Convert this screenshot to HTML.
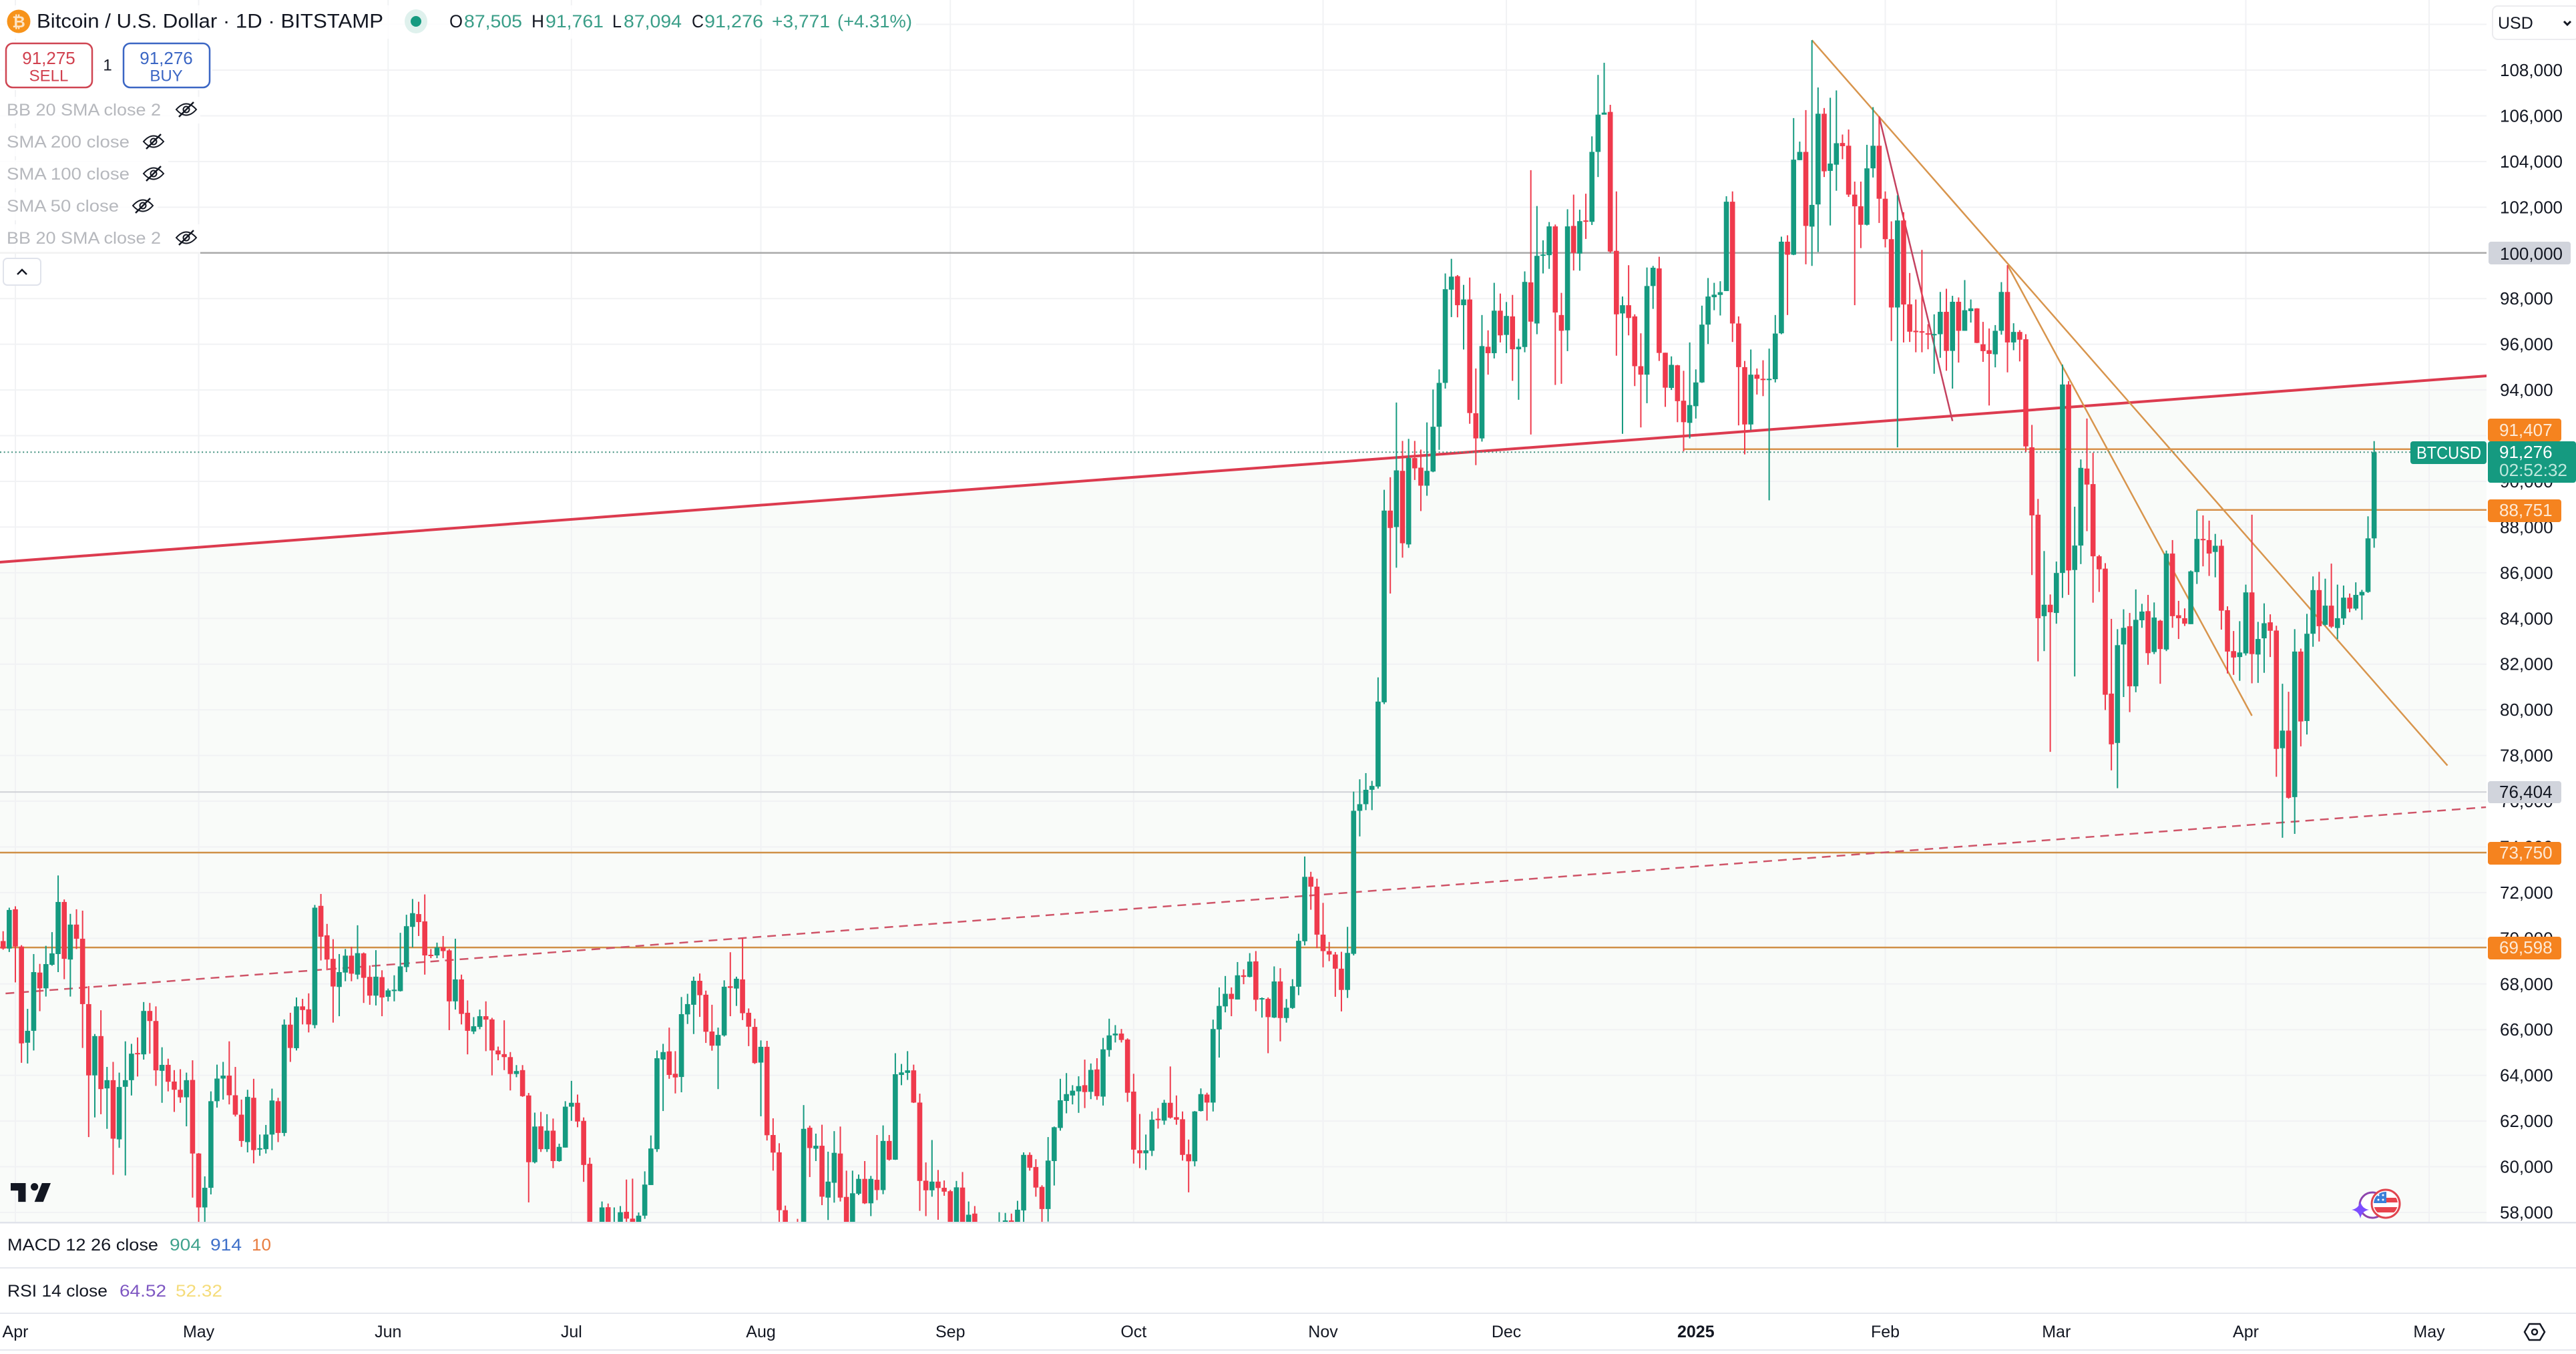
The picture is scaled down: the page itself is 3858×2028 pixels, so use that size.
<!DOCTYPE html>
<html lang="en">
<head>
<meta charset="utf-8">
<title>Bitcoin / U.S. Dollar 1D BITSTAMP</title>
<style>
html,body{margin:0;padding:0;background:#fff;width:3858px;height:2028px;overflow:hidden}
svg{display:block}
text{font-family:"Liberation Sans",sans-serif;fill:#131722;dominant-baseline:central}
</style>
</head>
<body>
<svg id="chart" xmlns="http://www.w3.org/2000/svg" width="3858" height="2028" viewBox="0 0 3858 2028">
<defs>
<clipPath id="plot-clip"><rect x="0" y="0" width="3724" height="1830"/></clipPath>
<clipPath id="flag-clip"><circle cx="3573" cy="1803" r="18"/></clipPath>
</defs>
<rect x="0" y="0" width="3858" height="2028" fill="#ffffff"/>
<g id="plot-layer" clip-path="url(#plot-clip)"></g>
<g id="axis-layer"></g>
<g id="time-layer"></g>

<!-- price tags -->
<g>
<g><rect x="3727" y="362" width="123" height="34" rx="4" fill="#d1d4dc"/><text x="3744" y="380" font-size="26">100,000</text></g>
<g><rect x="3726" y="627" width="110" height="34" rx="4" fill="#f5831f"/><text x="3743" y="644" font-size="26" style="fill:#fde9d5">91,407</text></g>
<g><rect x="3726" y="748" width="110" height="34" rx="4" fill="#f5831f"/><text x="3743" y="764" font-size="26" style="fill:#fde9d5">88,751</text></g>
<g><rect x="3726" y="1170" width="110" height="33" rx="4" fill="#d1d4dc"/><text x="3743" y="1186" font-size="26">76,404</text></g>
<g><rect x="3726" y="1261" width="110" height="34" rx="4" fill="#f5831f"/><text x="3743" y="1277" font-size="26" style="fill:#fde9d5">73,750</text></g>
<g><rect x="3726" y="1403" width="110" height="34" rx="4" fill="#f5831f"/><text x="3743" y="1419" font-size="26" style="fill:#fde9d5">69,598</text></g>
<g><rect x="3610" y="661" width="114" height="34" rx="4" fill="#159a80"/><text x="3619" y="678" font-size="26" textLength="97" lengthAdjust="spacingAndGlyphs" style="fill:#ffffff">BTCUSD</text></g>
<g><rect x="3726" y="661" width="132" height="62" rx="4" fill="#159a80"/><text x="3743" y="677" font-size="26" style="fill:#ffffff">91,276</text><text x="3743" y="704" font-size="26" textLength="102" lengthAdjust="spacingAndGlyphs" style="fill:#bfe8dd">02:52:32</text></g>
</g>

<!-- header legend -->
<g>
<rect x="0" y="8" width="1372" height="50" fill="#fff" fill-opacity=".85"/>
<rect x="0" y="60" width="318" height="75" fill="#fff" fill-opacity=".85"/>
<rect x="0" y="145" width="300" height="40" fill="#fff" fill-opacity=".85"/>
<rect x="0" y="192" width="252" height="42" fill="#fff" fill-opacity=".85"/>
<rect x="0" y="240" width="252" height="42" fill="#fff" fill-opacity=".85"/>
<rect x="0" y="288" width="236" height="42" fill="#fff" fill-opacity=".85"/>
<rect x="0" y="336" width="300" height="44" fill="#fff" fill-opacity=".85"/>

<g><circle cx="28" cy="32" r="17.5" fill="#f7931a"/><text x="28" y="33" font-size="24" font-weight="bold" text-anchor="middle" style="fill:#fde3c2;font-family:'DejaVu Sans',sans-serif">₿</text></g>
<text x="55" y="32" font-size="30" textLength="519" lengthAdjust="spacingAndGlyphs">Bitcoin / U.S. Dollar · 1D · BITSTAMP</text>
<g><ellipse cx="623" cy="32" rx="17" ry="18" fill="#dff1ed"/><circle cx="623" cy="32" r="8" fill="#159a80"/></g>
<g font-size="27">
<text x="673" y="32" textLength="20" lengthAdjust="spacingAndGlyphs">O</text><text x="695" y="32" textLength="87" lengthAdjust="spacingAndGlyphs" style="fill:#3a9e88">87,505</text>
<text x="796" y="32" textLength="19" lengthAdjust="spacingAndGlyphs">H</text><text x="817" y="32" textLength="87" lengthAdjust="spacingAndGlyphs" style="fill:#3a9e88">91,761</text>
<text x="917" y="32" textLength="14" lengthAdjust="spacingAndGlyphs">L</text><text x="934" y="32" textLength="87" lengthAdjust="spacingAndGlyphs" style="fill:#3a9e88">87,094</text>
<text x="1036" y="32" textLength="18" lengthAdjust="spacingAndGlyphs">C</text><text x="1055" y="32" textLength="88" lengthAdjust="spacingAndGlyphs" style="fill:#3a9e88">91,276</text>
<text x="1156" y="32" textLength="87" lengthAdjust="spacingAndGlyphs" style="fill:#3a9e88">+3,771</text>
<text x="1254" y="32" textLength="112" lengthAdjust="spacingAndGlyphs" style="fill:#3a9e88">(+4.31%)</text>
</g>

<g><rect x="9" y="65" width="129" height="66" rx="10" fill="#fff" stroke="#cf4552" stroke-width="2.5"/><text x="73" y="87" font-size="26" text-anchor="middle" style="fill:#d1414f">91,275</text><text x="73" y="114" font-size="24" text-anchor="middle" style="fill:#d1414f">SELL</text></g>
<text x="161" y="98" font-size="24" text-anchor="middle">1</text>
<g><rect x="185" y="65" width="129" height="66" rx="10" fill="#fff" stroke="#3b66c4" stroke-width="2.5"/><text x="249" y="87" font-size="26" text-anchor="middle" style="fill:#3b66c4">91,276</text><text x="249" y="114" font-size="24" text-anchor="middle" style="fill:#3b66c4">BUY</text></g>

<g font-size="25">
<text x="10" y="165" textLength="231" lengthAdjust="spacingAndGlyphs" style="fill:#b6b8bd">BB 20 SMA close 2</text>
<text x="10" y="213" textLength="184" lengthAdjust="spacingAndGlyphs" style="fill:#b6b8bd">SMA 200 close</text>
<text x="10" y="261" textLength="184" lengthAdjust="spacingAndGlyphs" style="fill:#b6b8bd">SMA 100 close</text>
<text x="10" y="309" textLength="168" lengthAdjust="spacingAndGlyphs" style="fill:#b6b8bd">SMA 50 close</text>
<text x="10" y="357" textLength="231" lengthAdjust="spacingAndGlyphs" style="fill:#b6b8bd">BB 20 SMA close 2</text>
</g>
<g transform="translate(279,164)" fill="none" stroke="#131722" stroke-width="2"><path d="M-15 0Q0-17 15 0Q0 17-15 0Z"/><circle r="4.5"/><path d="M-11 11L11-11" stroke-width="2.5"/></g>
<g transform="translate(230,212)" fill="none" stroke="#131722" stroke-width="2"><path d="M-15 0Q0-17 15 0Q0 17-15 0Z"/><circle r="4.5"/><path d="M-11 11L11-11" stroke-width="2.5"/></g>
<g transform="translate(230,260)" fill="none" stroke="#131722" stroke-width="2"><path d="M-15 0Q0-17 15 0Q0 17-15 0Z"/><circle r="4.5"/><path d="M-11 11L11-11" stroke-width="2.5"/></g>
<g transform="translate(214,308)" fill="none" stroke="#131722" stroke-width="2"><path d="M-15 0Q0-17 15 0Q0 17-15 0Z"/><circle r="4.5"/><path d="M-11 11L11-11" stroke-width="2.5"/></g>
<g transform="translate(279,356)" fill="none" stroke="#131722" stroke-width="2"><path d="M-15 0Q0-17 15 0Q0 17-15 0Z"/><circle r="4.5"/><path d="M-11 11L11-11" stroke-width="2.5"/></g>
<g><rect x="5" y="387" width="56" height="40" rx="6" fill="#fff" stroke="#e0e3eb" stroke-width="2"/><path d="M26 411L33 404L40 411" fill="none" stroke="#131722" stroke-width="2.5"/></g>
</g>

<!-- currency selector -->
<g><rect x="3733" y="9" width="130" height="50" rx="8" fill="#fff" stroke="#ececef" stroke-width="2"/><text x="3741" y="35" font-size="25">USD</text><path d="M3840 32L3845 37L3850 32" fill="none" stroke="#131722" stroke-width="3"/></g>

<!-- logo & news -->
<path transform="translate(12.25,1760.75) scale(1.875)" fill="#131722" d="M14 6H2v6h6v9h6V6Zm14 15h-7l6-15h7l-6 15Zm-7-9a3 3 0 1 0 0-6 3 3 0 0 0 0 6Z"/>
<g>
<circle cx="3553" cy="1805" r="19" fill="#fff" stroke="#8e44ad" stroke-width="3"/>
<path d="M3535 1799Q3537 1810 3548 1812Q3537 1814 3535 1825Q3533 1814 3522 1812Q3533 1810 3535 1799Z" fill="#7c4dff"/>
<circle cx="3573" cy="1803" r="21" fill="#fff" stroke="#e0454f" stroke-width="3"/>
<g clip-path="url(#flag-clip)"><rect x="3555" y="1785" width="36" height="36" fill="#fff"/><rect x="3573" y="1794" width="18" height="7" fill="#e8434d"/><rect x="3555" y="1808" width="36" height="8" fill="#e8434d"/><rect x="3555" y="1785" width="19" height="17" fill="#3a7fd8"/><circle cx="3562" cy="1790" r="1.5" fill="#fff"/><circle cx="3569" cy="1790" r="1.5" fill="#fff"/><circle cx="3562" cy="1797" r="1.5" fill="#fff"/><circle cx="3569" cy="1797" r="1.5" fill="#fff"/></g>
</g>

<!-- lower panes -->
<rect x="0" y="1830" width="3858" height="2.5" fill="#e0e3eb"/>
<rect x="0" y="1898" width="3858" height="2" fill="#e6e8ee"/>
<rect x="0" y="1966" width="3858" height="2" fill="#e6e8ee"/>
<rect x="0" y="2021" width="3858" height="2" fill="#e6e8ee"/>
<g font-size="25">
<text x="11" y="1865" textLength="226" lengthAdjust="spacingAndGlyphs">MACD 12 26 close</text>
<text x="254" y="1865" textLength="47" lengthAdjust="spacingAndGlyphs" style="fill:#3fa28d">904</text>
<text x="315" y="1865" textLength="47" lengthAdjust="spacingAndGlyphs" style="fill:#3d6fc9">914</text>
<text x="377" y="1865" textLength="29" lengthAdjust="spacingAndGlyphs" style="fill:#e87c3e">10</text>
</g>
<g font-size="25">
<text x="11" y="1934" textLength="150" lengthAdjust="spacingAndGlyphs">RSI 14 close</text>
<text x="179" y="1934" textLength="70" lengthAdjust="spacingAndGlyphs" style="fill:#7e57c2">64.52</text>
<text x="263" y="1934" textLength="70" lengthAdjust="spacingAndGlyphs" style="fill:#f5dc7a">52.32</text>
</g>
<g transform="translate(3796,1995)" fill="none" stroke="#131722" stroke-width="2.5"><path d="M-15 0L-8-12H8L15 0L8 12H-8Z"/><circle r="4"/></g>

<script>
/* Candle values (USD), one per day, beginning 30 Mar 2024 */
const firstBar = -2;
const opens = [
69880,69550,71270,69640,65430,65950,68500,67810,68840,69310,
71590,69070,70600,69980,67120,64000,65720,63430,63790,61200,
63500,63790,64980,64920,66820,66380,64200,64460,63730,63370,
63040,63800,60580,58220,59080,62870,63860,63990,63130,62280,
61080,63020,60750,60770,61410,62870,61480,66220,65190,67020,
66890,66200,71420,70130,69100,67870,68500,69240,68410,69340,
68310,67490,68300,67440,67690,67690,68740,70500,71060,70740,
69280,69250,69610,69470,67240,68200,66740,65920,66120,66590,
66450,65090,64930,64800,64060,64230,63120,60200,61770,60770,
61580,60250,60840,62630,62800,62010,60130,57000,56660,58230,
55860,56690,58030,57730,57340,57860,59200,60770,64690,65050,
64070,63930,66670,67090,68140,67530,65920,65300,65750,67900,
67800,68200,66740,66120,64560,65250,61390,60630,58100,53990,
56040,55120,61710,60790,60920,58650,59300,60580,58680,57560,
58820,59470,58400,59430,58980,61130,60310,64020,64110,64220,
62810,59390,58970,59350,59080,58930,57320,59090,57480,57950,
56160,53950,54150,54840,57050,57650,57340,58090,60520,59990,
59120,58150,60250,61700,62880,63120,63300,63570,63280,64260,
63070,65110,65750,65830,65570,63290,60720,60590,60700,62100,
62020,62800,62170,62080,60550,60240,62440,63160,62810,66010,
67020,67570,67320,68380,68310,68990,67340,67350,66530,68110,
66510,66950,67880,69870,72690,72260,70160,69440,69290,68670,
67740,69320,75580,75870,76500,76640,80330,88720,88000,90460,
87240,91020,90600,89810,90430,92390,94310,98390,98980,97710,
97960,92980,91880,95890,95610,97470,96410,97220,95780,95880,
98710,96910,99870,99900,101160,97280,96610,101180,99970,101420,
101360,104420,106050,106170,100090,97350,97710,97220,95040,94670,
98550,99320,95630,94090,95080,93530,92560,93290,94330,96860,
98060,98160,98330,102240,96910,95000,92490,94670,94490,94470,
94470,96480,100490,99920,104060,104420,101150,102120,106090,103590,
103860,104810,104690,102550,102040,101230,103700,104690,102370,100600,
97610,101420,97750,96590,96570,96480,96410,96440,97420,95710,
97860,96590,97450,97570,96000,95740,95560,96590,98290,96080,
96540,96220,91490,88540,84100,84600,84240,85990,94240,86120,
87190,90560,89880,86720,86180,80710,78550,82860,83660,81030,
83920,84320,82530,83900,82640,86840,84140,84010,83750,86030,
87480,87430,86910,87180,84360,82570,82310,82470,85140,82420,
83130,83830,83470,78320,79090,76180,82550,79510,83330,85240,
83720,84560,83580,84000,84910,84430,85010,85160,87505];
const highs = [
70310,71340,71400,69700,66910,69310,68880,69670,70270,72750,
71700,71070,71270,71210,67910,65810,66850,64370,64590,64120,
65490,65380,65660,67210,67170,67020,65230,64730,64230,64270,
64120,64660,60600,59580,63300,64470,64590,65490,64370,62940,
63370,63850,61410,61830,63420,63020,66450,66740,67410,67350,
67590,71460,71940,70630,69960,69310,69530,69630,70570,69380,
68810,69480,68600,67800,68380,70240,71030,71720,71600,71920,
69530,69810,70100,69530,69980,68410,67280,66550,66880,67240,
66520,65260,66410,65020,64450,64450,63230,62370,62400,62300,
62110,61010,62870,63760,63160,62160,60400,57490,58480,58390,
58220,58280,59440,59480,58000,59800,61370,65090,65380,66090,
65060,67430,67570,68320,68460,67710,67090,66090,68160,69390,
68320,70020,66930,66480,65530,65510,62120,61030,58300,57000,
57720,62700,61800,61450,61840,60660,61560,61760,59830,59830,
59660,60250,59600,61390,61810,61390,64970,64500,65060,64470,
63200,60190,61170,59860,59400,58990,59380,59770,58480,58280,
57000,54800,55300,58010,57980,57950,58510,60630,60630,60330,
59190,61300,61760,63850,64100,63570,63960,64690,64520,64750,
65640,66480,66200,66030,65620,64070,62310,61410,62420,62570,
62930,64390,63120,62420,61190,62440,63430,63240,66440,67850,
68350,67850,68960,68640,69350,69440,67410,67410,68770,68690,
67340,68210,70200,73580,72910,72610,71550,69840,69400,69410,
70500,76420,76960,77230,76890,81420,89630,90180,93450,91770,
91860,91770,91390,92580,94020,94900,99100,99740,99030,98600,
98920,94940,97280,96610,98690,98220,97850,98160,96240,99190,
103620,102050,100550,101350,101240,98250,101910,102550,101890,102590,
105100,107790,108320,106480,102690,98090,99460,97310,96480,99360,
99430,99830,95630,95470,95100,94840,96080,94900,97690,98900,
98690,98760,102480,102690,97220,95270,95770,94940,95300,95810,
97280,100710,100770,105900,104870,106250,109310,107240,106340,106790,
107110,105180,105400,103120,103120,104730,106380,105980,102690,101380,
102520,101780,99120,97960,100130,96880,97310,98290,98430,98120,
98050,98810,97960,97580,96980,96690,96840,98720,99460,96920,
96620,96440,92470,89230,86950,85050,86490,95110,94390,88890,
90960,92750,91250,86780,86420,83980,83530,84400,84240,85270,
84640,85030,84700,83940,86970,87430,84770,84440,86100,88730,
88510,88280,87700,87450,84530,83450,83880,85480,88540,83850,
84660,84180,83680,81140,80790,83530,82680,84200,85840,86040,
85740,86400,85480,85440,85090,85580,85250,88470,91761];
const lows = [
69500,69400,68070,64550,64520,65090,66810,67450,68800,68520,
68210,67450,69530,65200,61300,62160,62300,61660,59650,60830,
59620,63120,63950,64690,64950,63540,62800,63300,62400,62800,
61770,58650,56500,56900,58790,62590,62940,62730,62200,60870,
60630,60150,60480,60580,60730,61080,61340,64590,65090,66230,
65880,66060,69030,68600,66310,66590,68120,68120,68210,67170,
67090,67060,66590,67240,67240,67670,68520,69600,70100,68410,
69130,69130,69130,65980,66880,66230,64920,65810,66020,65060,
64000,64660,64230,63340,63920,63060,58440,60150,60650,60650,
59940,60220,60840,62010,61730,59340,56800,53550,56600,55800,
54300,56500,57100,56500,57000,57720,59200,60650,62440,63850,
63210,63260,66250,65810,66560,65420,65080,63400,65700,66590,
67040,66420,65280,64500,62210,61150,59830,57000,49050,53900,
54700,54800,59550,60250,58320,57670,58430,58480,56100,57100,
58760,58370,57840,58540,58800,60270,60300,63570,63800,62790,
58070,57840,58690,57680,58730,57200,57100,57300,55600,55600,
52550,53700,53650,54600,56400,55550,57300,57590,59830,58690,
57500,57600,59180,61580,62340,62730,62360,62570,62960,62930,
62680,64820,65440,65440,62840,60140,59940,59860,60470,61670,
61840,62110,61840,60270,58880,60020,62420,62020,62420,64780,
66760,66590,67320,67990,68290,66810,66530,64970,66510,65490,
66310,66910,67510,69690,71250,69570,68730,69000,67440,66800,
67390,69250,74460,75610,75610,76550,80250,85090,86220,86660,
87090,90060,88700,89370,90400,91380,94060,97190,97180,95770,
92520,90710,91740,94670,95380,96080,95610,94400,93570,95650,
92050,96440,99100,99300,94220,94270,95700,99230,99220,100610,
101220,103320,106070,100000,95500,92080,96390,94170,92360,93420,
97550,95270,93260,94000,92590,91310,91880,92750,94310,96010,
97490,97260,98330,96100,92450,91180,92240,93800,93730,89170,
94330,96440,97280,99900,104060,99500,99430,100040,103320,101200,
102720,104100,102450,97710,100210,101200,103300,101310,100240,96140,
91490,96080,96100,95650,95650,95780,94710,95410,94840,94060,
95200,96590,96950,96050,95230,93320,94990,96420,94770,95740,
95250,91290,85900,82120,82570,78160,83770,84900,85030,81460,
86380,87820,84690,85160,79990,77350,76570,80560,79900,80770,
83590,81970,82440,81140,82570,83590,83100,83670,83750,85510,
86280,85860,85800,83510,81590,81530,81270,82380,81160,81180,
81620,82310,77070,74400,76110,74570,78400,78920,82760,82990,
83680,83580,83100,83720,84270,84350,83940,85120,87094];
const closes = [
69550,71240,69640,65400,65950,68520,67810,68870,69340,71590,
69100,70600,69980,67120,64000,65720,63400,63790,61230,63490,
63790,64950,64920,66820,66380,64220,64460,63720,63370,63040,
63790,60580,58220,59080,62870,63860,63990,63130,62280,61130,
63060,60730,60810,61410,62900,61480,66220,65200,67020,66860,
66230,71340,70070,69070,67890,68520,69240,68450,69350,68270,
67490,68320,67410,67720,67750,68770,70530,71100,70710,69250,
69250,69600,69440,67240,68200,66690,65950,66150,66590,66440,
65090,64920,64800,64060,64190,63090,60200,61760,60770,61580,
60250,60870,62630,62800,61980,60080,57000,56660,58220,55860,
56690,58010,57730,57340,57860,59220,60800,64750,65020,64020,
63910,66680,67120,68140,67510,65910,65300,65770,67880,67830,
68230,66720,66130,64540,65250,61380,60620,58100,53990,56040,
55120,61660,60820,60920,58690,59350,60610,58650,57560,58840,
59470,58400,59470,58980,61130,60310,64050,64130,64220,62810,
59380,58970,59350,59070,58910,57320,59100,57480,57900,56160,
53950,54150,54840,57050,57650,57340,58120,60520,59960,59090,
58150,60270,61730,62910,63180,63330,63530,63270,64240,63090,
65140,65750,65830,65550,63240,60750,60590,60720,62060,62040,
62800,62150,62060,60520,60240,62420,63180,62810,66030,67040,
67570,67340,68380,68310,68980,67310,67380,66550,68110,66510,
66960,67900,69890,72690,72260,70160,69440,69290,68670,67740,
69360,75580,75870,76500,76670,80360,88720,87960,90480,87290,
91020,90570,89810,90460,92390,94310,98410,98960,97710,97960,
92990,91880,95920,95610,97470,96390,97240,95780,95890,98730,
96990,99870,99930,101160,97390,96590,101160,100000,101390,101360,
104420,106050,106140,100060,97310,97710,97150,95040,94670,98550,
99350,95620,94100,95100,93510,92590,93340,94330,96860,98090,
98170,98280,102240,96910,95000,92490,94670,94490,94440,94490,
96470,100490,99920,104080,104420,101180,102100,106090,103570,103910,
104800,104670,102550,102040,101230,103700,104690,102370,100600,97610,
101420,97740,96550,96530,96510,96430,96450,97420,95710,97860,
96590,97490,97570,96060,95700,95580,96590,98290,96080,96540,
96200,91530,88510,84010,84600,84270,85990,94240,86100,87190,
90590,89860,86720,86150,80660,78490,82830,83590,81030,83940,
84300,82480,84040,82660,86840,84100,84010,83770,86060,87480,
87430,86840,87180,84340,82550,82290,82510,85140,82440,83100,
83790,83460,78290,79090,76150,82550,79490,83330,85240,83660,
84560,83640,84010,84910,84430,85030,85160,87505,91276];

/* Axis tick values */
const gridPrices = [58000,60000,62000,64000,66000,68000,70000,72000,74000,76000,78000,80000,82000,84000,86000,88000,90000,92000,94000,96000,98000,100000,102000,104000,106000,108000,110000];
const priceLabels = ['58,000','60,000','62,000','64,000','66,000','68,000','70,000','72,000','74,000','76,000','78,000','80,000','82,000','84,000','86,000','88,000','90,000','92,000','94,000','96,000','98,000',null,'102,000','104,000','106,000','108,000',null];
const monthBars = [0,30,61,91,122,153,183,214,244,275,306,334,365,395];
const monthLabels = ['Apr','May','Jun','Jul','Aug','Sep','Oct','Nov','Dec','2025','Feb','Mar','Apr','May'];

/* Horizontal levels and drawn trend lines, in price and bar-index terms */
const levelPrices = [73750,69598];
const grayLevelPrices = [100000,76404];
const shortLevelStarts = [273,357];
const shortLevelPrices = [91407,88751];
const lastPrice = 91276;
const supportBars = [-3,405];
const supportPrices = [86453,94628];
const dashedBars = [-1.6,404.3];
const dashedPrices = [67585,75738];
const fallingBarsA = [294,398];
const fallingPricesA = [109310,77562];
const fallingBarsB = [326,366];
const fallingPricesB = [99470,79741];
const fallingBarsC = [305,317];
const fallingPricesC = [105954,92640];

/* Axis functions */
function xOf(bar){ return 23 + 9.152*bar; }
function yOf(price){ return 105 + (108000-price)*0.03422; }

const NS = 'http://www.w3.org/2000/svg';
const plot = document.getElementById('plot-layer');
const axis = document.getElementById('axis-layer');
const timeAxis = document.getElementById('time-layer');
function make(parent, tag, props){
  const n = document.createElementNS(NS, tag);
  for(const k in props){ n.setAttribute(k, props[k]); }
  parent.appendChild(n);
  return n;
}

/* tinted region below support line */
const fillArea = make(plot,'polygon',{points:[xOf(supportBars[0])+','+yOf(supportPrices[0]),xOf(supportBars[1])+','+yOf(supportPrices[1]),xOf(supportBars[1])+',1830',xOf(supportBars[0])+',1830'].join(' '),fill:'#f9fbf9'});



/* grid */
gridPrices.forEach(function(p,i){
  const g = make(plot,'line',{x1:0,x2:3724,y1:yOf(p),y2:yOf(p),stroke:'#f1f2f4','stroke-width':2});
  
  
  if(priceLabels[i]){
    const t = make(axis,'text',{x:3744,y:yOf(p),'font-size':26});
    t.textContent = priceLabels[i];
    
    
  }
});
monthBars.forEach(function(b,i){
  const g = make(plot,'line',{x1:xOf(b),x2:xOf(b),y1:0,y2:1830,stroke:'#f1f2f4','stroke-width':2});
  
  
  const t = make(timeAxis,'text',{x:xOf(b),y:1995,'font-size':25,'text-anchor':'middle'});
  if(monthLabels[i]==='2025'){ t.setAttribute('font-weight','bold'); }
  t.textContent = monthLabels[i];
  
  
});

/* levels */
grayLevelPrices.forEach(function(p,i){
  const l = make(plot,'line',{x1:0,x2:3724,y1:yOf(p),y2:yOf(p),stroke:i===0?'#a9a9a9':'#cfd1d6','stroke-width':i===0?2.5:2});
  
  
});
levelPrices.forEach(function(p){
  const l = make(plot,'line',{x1:0,x2:3724,y1:yOf(p),y2:yOf(p),stroke:'#d09047','stroke-width':2.5});
  
  
});
shortLevelPrices.forEach(function(p,i){
  const l = make(plot,'line',{x1:xOf(shortLevelStarts[i]),x2:3724,y1:yOf(p),y2:yOf(p),stroke:'#d8914a','stroke-width':2.5});
  
  
});

/* trend lines */
const support = make(plot,'line',{x1:xOf(supportBars[0]),y1:yOf(supportPrices[0]),x2:xOf(supportBars[1]),y2:yOf(supportPrices[1]),stroke:'#dc3b4f','stroke-width':4});


const dashed = make(plot,'line',{x1:xOf(dashedBars[0]),y1:yOf(dashedPrices[0]),x2:xOf(dashedBars[1]),y2:yOf(dashedPrices[1]),stroke:'#cf5468','stroke-width':2.5,'stroke-dasharray':'13 9'});


const fallA = make(plot,'line',{x1:xOf(fallingBarsA[0]),y1:yOf(fallingPricesA[0]),x2:xOf(fallingBarsA[1]),y2:yOf(fallingPricesA[1]),stroke:'#d8954d','stroke-width':2.5});


const fallB = make(plot,'line',{x1:xOf(fallingBarsB[0]),y1:yOf(fallingPricesB[0]),x2:xOf(fallingBarsB[1]),y2:yOf(fallingPricesB[1]),stroke:'#d8954d','stroke-width':2.5});


const fallC = make(plot,'line',{x1:xOf(fallingBarsC[0]),y1:yOf(fallingPricesC[0]),x2:xOf(fallingBarsC[1]),y2:yOf(fallingPricesC[1]),stroke:'#c4415f','stroke-width':2.5});



/* last price dotted line */
const lastLine = make(plot,'line',{x1:0,x2:3610,y1:yOf(lastPrice),y2:yOf(lastPrice),stroke:'#3f8f7d','stroke-width':2,'stroke-dasharray':'2 3.7'});



/* candles */
const UP = '#159a80';
const DOWN = '#ef3a4c';
closes.forEach(function(c,k){
  const bar = firstBar + k;
  const o = opens[k];
  const color = c >= o ? UP : DOWN;
  const cx = xOf(bar);
  const wick = make(plot,'rect',{x:cx-1,y:yOf(highs[k]),width:2,height:Math.max(1,yOf(lows[k])-yOf(highs[k])),fill:color});
  
  
  const top = yOf(Math.max(o,c));
  const body = make(plot,'rect',{x:cx-3.8,y:top,width:7.6,height:Math.max(2,yOf(Math.min(o,c))-top),fill:color});
  
  
});
</script>
</svg>
</body>
</html>
